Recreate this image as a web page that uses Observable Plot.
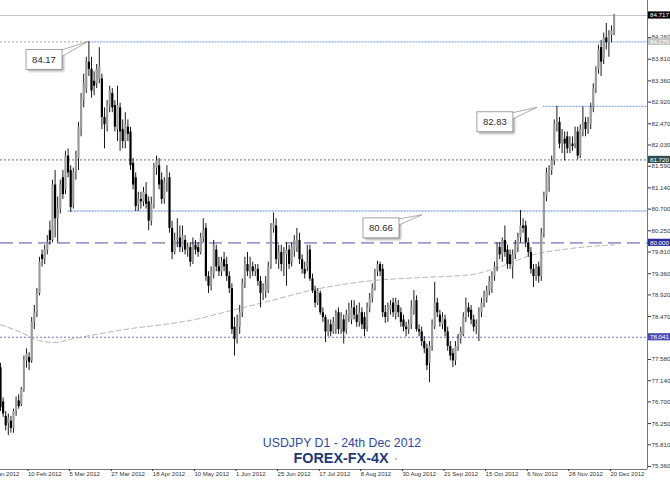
<!DOCTYPE html>
<html><head><meta charset="utf-8">
<script src="https://cdn.jsdelivr.net/npm/d3@7"></script>
<script src="https://cdn.jsdelivr.net/npm/@observablehq/plot@0.6"></script>
<style>html,body{margin:0;padding:0;background:#fff;}#chart{width:670px;height:480px;overflow:hidden;}</style>
</head><body><div id="chart"></div>
<script>
// ---- data (daily bars, index 0 = 19 Jan 2012; first visible bar = 6) ----
const firstBar = 6;
const open = [
77.41,76.70,76.40,76.25,76.30,76.15,76.50,76.72,76.65,76.95,
77.55,77.62,77.55,78.35,78.55,78.95,79.75,79.65,79.85,80.25,
80.05,81.20,80.50,80.70,81.35,81.10,81.80,81.50,80.80,81.45,
81.75,82.35,82.95,83.20,83.75,83.60,83.35,83.30,83.40,83.40,
82.60,82.40,82.85,83.10,82.85,82.35,82.80,82.35,82.10,82.40,
82.30,81.65,81.35,80.80,80.90,80.85,81.00,80.85,80.45,80.80,
81.55,81.60,81.30,80.90,81.25,81.35,80.30,79.80,80.05,80.10,
79.90,80.05,79.85,79.90,79.60,79.95,79.90,79.80,80.10,80.30,
79.30,79.10,79.35,79.85,79.50,79.40,79.65,79.55,79.30,79.05,
78.25,78.00,78.25,78.55,79.15,79.55,79.40,79.50,79.40,79.45,
79.20,78.95,79.00,79.00,79.50,80.30,80.35,79.65,79.80,79.55,
79.75,79.85,79.60,79.85,79.90,80.05,79.65,79.45,79.50,79.85,
79.25,79.00,78.75,78.95,78.55,78.45,78.15,78.30,78.15,78.20,
78.55,78.20,78.40,78.20,78.45,78.40,78.65,78.50,78.35,78.55,
78.45,78.25,78.65,78.85,79.05,79.40,79.55,79.45,78.55,78.45,
78.60,78.75,78.50,78.70,78.55,78.40,78.25,78.20,78.30,78.60,
78.80,78.20,78.15,77.95,77.80,77.50,77.85,78.25,78.75,78.50,
78.30,78.40,78.15,77.85,77.70,77.55,77.85,78.00,78.10,78.45,
78.65,78.60,78.40,78.25,78.15,78.55,78.75,78.85,79.00,79.05,
79.30,79.50,79.90,79.75,80.05,79.85,79.75,79.50,79.75,79.90,
80.10,80.35,80.35,80.00,79.80,79.45,79.30,79.50,79.30,80.20,
80.95,81.35,81.50,81.70,82.45,82.50,82.05,82.15,82.20,81.95,
82.05,82.05,82.30,81.80,82.30,82.50,82.35,82.45,82.80,83.20,
83.60,84.05,83.80,84.25,84.15,84.30,84.35];
const high = [
77.50,76.78,76.50,76.45,76.40,76.55,76.80,76.85,77.00,77.65,
77.80,77.72,78.45,78.70,79.05,79.70,79.85,79.95,80.15,80.45,
81.30,81.50,80.95,81.30,81.50,81.90,81.95,81.60,81.55,81.90,
82.50,83.10,83.50,83.85,84.17,83.85,83.55,83.70,84.05,83.50,
82.80,82.95,83.25,83.20,82.95,83.25,82.90,82.55,82.70,82.55,
82.40,81.75,81.45,81.05,81.05,81.15,81.25,80.95,80.95,81.65,
81.80,81.75,81.45,81.35,81.60,81.45,80.45,80.20,80.50,80.35,
80.35,80.15,80.00,80.00,80.10,80.05,80.00,80.20,80.50,80.40,
79.40,79.50,80.05,79.95,79.70,79.70,79.80,79.70,79.40,79.15,
78.45,78.50,78.70,79.25,79.70,79.80,79.70,79.60,79.55,79.55,
79.30,79.15,79.30,79.60,80.40,80.62,80.50,79.95,79.95,79.90,
80.00,79.95,80.00,80.15,80.30,80.20,79.75,79.60,79.95,79.95,
79.35,79.10,79.05,79.00,78.65,78.50,78.40,78.40,78.45,78.60,
78.65,78.55,78.50,78.60,78.75,78.80,78.80,78.70,78.75,78.65,
78.55,78.75,78.95,79.15,79.45,79.62,79.60,79.55,78.70,78.75,
78.80,78.85,78.85,78.80,78.65,78.50,78.35,78.40,78.80,79.01,
78.90,78.30,78.25,78.05,77.90,77.95,78.40,79.18,78.85,78.60,
78.55,78.50,78.25,77.95,77.80,77.95,78.10,78.25,78.55,78.85,
78.75,78.70,78.50,78.40,78.65,78.85,79.00,79.10,79.30,79.40,
79.60,80.00,80.00,80.10,80.35,79.95,79.85,79.85,80.05,80.20,
80.67,80.50,80.45,80.10,79.90,79.55,79.55,79.60,80.30,81.05,
81.55,81.60,81.80,82.55,82.83,82.60,82.35,82.30,82.30,82.20,
82.20,82.40,82.40,82.45,82.82,82.60,82.60,82.90,83.30,83.65,
84.10,84.20,84.35,84.55,84.40,84.50,84.74];
const low = [
76.50,76.38,76.10,76.00,76.05,76.05,76.40,76.55,76.60,76.90,
77.40,77.35,77.50,78.20,78.45,78.90,79.50,79.55,79.75,79.95,
80.00,80.10,80.00,80.60,80.90,81.00,81.35,80.63,80.70,81.30,
81.50,82.20,82.80,83.10,83.45,83.00,83.05,83.20,83.30,82.35,
81.95,82.30,82.70,82.70,82.30,82.10,81.90,81.95,81.95,82.10,
81.50,81.10,80.65,80.65,80.70,80.75,80.70,80.25,80.35,80.70,
81.40,81.10,80.80,80.80,81.05,80.20,79.65,79.75,79.90,79.80,
79.80,79.75,79.70,79.50,79.55,79.75,79.70,79.75,80.00,79.20,
78.95,79.00,79.25,79.40,79.30,79.30,79.40,79.20,78.95,78.10,
77.65,77.90,78.10,78.45,79.05,79.30,79.25,79.30,79.30,79.10,
78.65,78.80,78.85,78.95,79.45,80.20,79.55,79.45,79.40,79.30,
79.10,79.45,79.50,79.70,79.80,79.55,79.35,79.25,79.40,79.20,
78.95,78.65,78.70,78.50,78.35,77.93,78.05,78.05,78.10,78.10,
78.10,78.10,77.90,78.10,78.35,78.30,78.40,78.25,78.25,78.20,
78.05,78.15,78.55,78.75,79.00,79.30,79.30,78.45,78.33,78.35,
78.50,78.45,78.40,78.45,78.25,78.15,78.05,78.10,78.20,78.50,
78.15,78.05,77.85,77.70,77.35,77.10,77.75,78.20,78.45,78.25,
78.20,78.05,77.75,77.55,77.41,77.45,77.75,77.90,78.05,78.35,
78.45,78.30,78.15,78.10,77.95,78.45,78.65,78.75,78.90,78.95,
79.20,79.40,79.65,79.60,79.70,79.45,79.45,79.25,79.65,79.80,
80.00,80.20,79.90,79.70,79.35,79.07,79.20,79.16,79.20,80.10,
80.85,81.05,81.40,81.60,82.30,81.95,81.85,81.70,81.85,81.85,
81.90,81.95,81.72,81.75,82.20,82.20,82.25,82.35,82.70,83.10,
83.50,83.45,83.70,84.00,83.85,84.15,84.30];
const close = [
76.58,76.45,76.20,76.35,76.15,76.50,76.72,76.60,76.95,77.55,
77.70,77.52,78.35,78.55,78.95,79.60,79.65,79.85,80.00,80.05,
81.20,80.50,80.70,81.20,81.00,81.80,81.45,80.73,81.45,81.80,
82.40,83.00,83.30,83.75,83.60,83.15,83.25,83.60,83.65,82.60,
82.45,82.85,83.15,82.80,82.40,82.85,82.30,82.10,82.45,82.25,
81.60,81.20,80.75,80.90,80.85,81.05,80.80,80.45,80.80,81.55,
81.70,81.20,80.90,81.25,81.45,80.30,79.80,80.05,80.10,79.90,
80.15,79.85,79.90,79.60,79.95,79.85,79.80,80.10,80.25,79.30,
79.10,79.40,79.95,79.50,79.40,79.60,79.50,79.30,79.05,78.20,
78.00,78.25,78.55,79.15,79.55,79.40,79.50,79.40,79.45,79.20,
78.95,79.00,79.15,79.50,80.30,80.40,79.65,79.80,79.55,79.75,
79.85,79.55,79.90,80.05,80.05,79.65,79.45,79.35,79.60,79.25,
79.00,78.75,79.00,78.55,78.45,78.15,78.30,78.15,78.35,78.50,
78.20,78.45,78.15,78.50,78.60,78.65,78.50,78.35,78.55,78.30,
78.20,78.65,78.85,79.05,79.35,79.55,79.40,78.55,78.45,78.65,
78.70,78.55,78.75,78.55,78.35,78.25,78.20,78.30,78.65,78.80,
78.20,78.15,77.95,77.80,77.45,77.85,78.30,78.75,78.55,78.35,
78.45,78.15,77.85,77.65,77.55,77.85,78.00,78.15,78.45,78.65,
78.55,78.40,78.25,78.30,78.55,78.75,78.90,79.00,79.20,79.30,
79.50,79.90,79.75,80.05,79.80,79.55,79.55,79.75,79.95,80.10,
80.35,80.30,80.00,79.80,79.45,79.30,79.45,79.30,80.20,80.95,
81.45,81.50,81.70,82.45,82.50,82.05,82.20,82.05,81.95,82.05,
82.00,82.30,81.80,82.35,82.45,82.35,82.50,82.80,83.20,83.55,
84.00,83.75,84.25,84.15,84.30,84.40,84.717];

// moving average (read at a few bars)
const maBars   = [6,14,21,27,33,45,56,68,79,95,110,125,150,168,187,198,210,225,242];
const maValues = [78.30,78.14,77.97,77.93,78.00,78.12,78.22,78.30,78.39,78.60,78.80,79.01,79.22,79.28,79.34,79.50,79.74,79.88,79.96];

// x axis ticks
const xTickBars = [0,16,32,48,64,80,96,112,128,144,160,176,192,208,224,240];
const xTickLabels = ["19 Jan 2012","10 Feb 2012","5 Mar 2012","27 Mar 2012","18 Apr 2012","10 May 2012","1 Jun 2012","25 Jun 2012","17 Jul 2012","8 Aug 2012","30 Aug 2012","21 Sep 2012","15 Oct 2012","6 Nov 2012","28 Nov 2012","20 Dec 2012"];
// y axis ticks
const yTicks = [84.26,83.81,83.36,82.92,82.47,82.03,81.59,81.14,80.70,80.25,79.81,79.36,78.92,78.47,78.03,77.58,77.14,76.70,76.25,75.81,75.36];

// horizontal levels
const levelPrices  = [84.717, 84.17, 84.17, 82.83, 81.72, 80.66, 80.00, 78.041];
const levelFromBar = [6, 6, 40, 214.7, 6, 32, 6, 6];
const levelToBar   = [null, 40, null, null, null, null, null, null];
// highlighted price labels on the axis
const markerPrices = [84.717, 84.17, 81.72, 80.00, 78.041];
const markerLabels = ["84.717","84.170","81.720","80.000","78.041"];
// callouts
const calloutLabels = ["84.17","82.83","80.66"];
const calloutBars   = [40, 212.5, 168.3];
const calloutPrices = [84.17, 82.80, 80.57];

const titleText = "USDJPY D1 - 24th Dec 2012";
const logoText  = "FOREX-FX-4X";

// ---- styles ----
const xDomain = [6, 254.85];
const yDomain = [75.297, 85.028];
const levelStyles = [
  {stroke:"#c4c4c4", dash:null,   width:1},
  {stroke:"#a8a8a8", dash:"2,2",  width:1},
  {stroke:"#8aaae6", dash:"2,1",  width:1.3},
  {stroke:"#8aaae6", dash:"2,1",  width:1.3},
  {stroke:"#5e7d70", dash:"2,2",  width:1},
  {stroke:"#8aaae6", dash:"2,1",  width:1.3},
  {stroke:"#9a9acc", dash:"13,6", width:1.6},
  {stroke:"#7474cc", dash:"2,2",  width:1}
];
const markerFills = ["#000000","#c4c4c4","#2f4f4f","#2e2e96","#4b4bb4"];
const calloutOffsets = [[-62.4, 8], [-60, 4.4], [-59, 3]];

const bars = open.map((o, k) => ({i: firstBar + k, open: o, high: high[k], low: low[k], close: close[k], up: close[k] >= o}));
const maPoints = maBars.map((b, k) => ({i: b, v: maValues[k]}));

const levelMarks = levelPrices.map((p, k) => {
  const s = levelStyles[k];
  return Plot.ruleY([{p, a: levelFromBar[k], b: levelToBar[k] ?? xDomain[1]}], {
    y: "p", x1: "a", x2: "b", stroke: s.stroke, strokeWidth: s.width,
    strokeDasharray: s.dash || undefined
  });
});

const SVGNS = "http://www.w3.org/2000/svg";
function el(name, attrs, text) {
  const e = document.createElementNS(SVGNS, name);
  for (const k in attrs) e.setAttribute(k, attrs[k]);
  if (text != null) e.textContent = text;
  return e;
}

function overlay(index, scales) {
  const x = scales.x, y = scales.y;
  const right = x(xDomain[1]);
  const g = el("g", {"font-family": "'Liberation Sans', Arial, sans-serif"});
  const defs = el("defs", {});
  const filt = el("filter", {id: "shadow", x: "-20%", y: "-20%", width: "150%", height: "160%"});
  filt.appendChild(el("feGaussianBlur", {stdDeviation: 1.1}));
  defs.appendChild(filt);
  g.appendChild(defs);
  // axis highlight labels
  markerPrices.forEach((p, k) => {
    const yy = y(p);
    g.appendChild(el("rect", {x: right + 1, y: yy - 3.6, width: 23, height: 7.2, fill: markerFills[k]}));
    g.appendChild(el("text", {x: right + 3, y: yy + 2.2, "font-size": 6.2, fill: "#fff", "text-anchor": "start"}, markerLabels[k]));
  });
  // callouts
  calloutLabels.forEach((lab, k) => {
    const tx = x(calloutBars[k]), ty = y(calloutPrices[k]);
    const bx = tx + calloutOffsets[k][0], by = ty + calloutOffsets[k][1];
    const w = 36, h = 20;
    g.appendChild(el("rect", {x: bx + 2, y: by + 2, width: w, height: h, fill: "#9a9a9a", opacity: 0.8, filter: "url(#shadow)"}));
    g.appendChild(el("path", {d: `M${bx + w - 3},${by + 1.5}L${tx},${ty}L${bx + w},${by + 7}Z`, fill: "#fff", stroke: "#8a8a8a", "stroke-width": 0.7}));
    g.appendChild(el("rect", {x: bx, y: by, width: w, height: h, fill: "#fff", stroke: "#8a8a8a", "stroke-width": 0.8}));
    g.appendChild(el("text", {x: bx + w / 2, y: by + h / 2 + 3.3, "text-anchor": "middle", "font-size": 9.5, fill: "#2a2a2a"}, lab));
  });
  // title and logo
  g.appendChild(el("text", {x: 342, y: 447, "text-anchor": "middle", "font-size": 12.3, fill: "#2f48a4"}, titleText));
  g.appendChild(el("text", {x: 341, y: 463, "text-anchor": "middle", "font-size": 14, "font-weight": "bold", fill: "#1e3a78",
    textLength: 95, lengthAdjust: "spacingAndGlyphs"}, logoText));
  g.appendChild(el("circle", {cx: 396, cy: 459, r: 1.2, fill: "#b8c4dc"}));
  return g;
}

const chart = Plot.plot({
  width: 670, height: 480,
  marginTop: 0, marginRight: 23, marginBottom: 11, marginLeft: 0,
  style: {fontFamily: "'Liberation Sans', Arial, sans-serif", background: "#fff"},
  x: {domain: xDomain},
  y: {domain: yDomain},
  marks: [
    ...levelMarks,
    Plot.line(maPoints, {x: "i", y: "v", stroke: "#b4b4b4", strokeWidth: 1, strokeDasharray: "5,3", curve: "monotone-x"}),
    Plot.ruleX(bars, {x: "i", y1: "low", y2: "high", stroke: "#1a1a1a", strokeWidth: 1}),
    Plot.ruleX(bars.filter(d => d.up), {x: "i", y1: "open", y2: "close", stroke: "#9a9a9a", strokeWidth: 2.2}),
    Plot.ruleX(bars.filter(d => !d.up), {x: "i", y1: "open", y2: "close", stroke: "#000", strokeWidth: 2.2}),
    Plot.ruleX([xDomain[1]], {stroke: "#777"}),
    Plot.ruleY([yDomain[0]], {stroke: "#777"}),
    Plot.axisX({ticks: xTickBars, tickFormat: d => xTickLabels[xTickBars.indexOf(d)], tickSize: 2, tickPadding: 0,
      textAnchor: "start", dx: 1.5, fontSize: 6, label: null, color: "#333"}),
    Plot.axisY({anchor: "right", ticks: yTicks, tickFormat: d3.format(".3f"), tickSize: 3, tickPadding: 1,
      fontSize: 6.2, label: null, color: "#333"}),
    overlay
  ]
});
document.getElementById("chart").appendChild(chart);
</script>
</body></html>
